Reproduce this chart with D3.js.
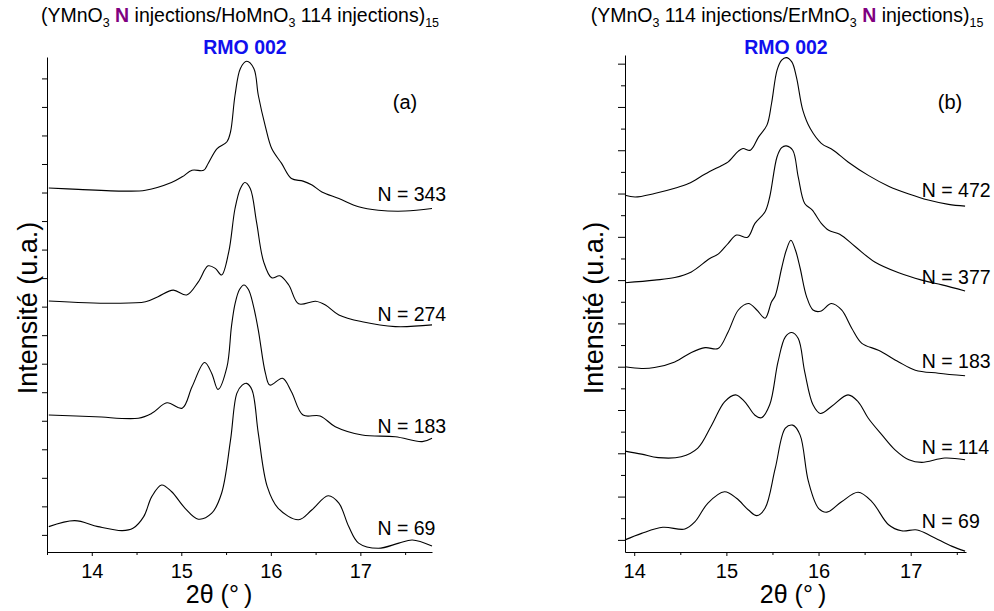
<!DOCTYPE html>
<html><head><meta charset="utf-8">
<script src="https://cdn.jsdelivr.net/npm/d3@7"></script>
<style>
body{margin:0;background:#fff}
svg{display:block}
text{font-family:"Liberation Sans",Arial,Helvetica,sans-serif}
</style>
</head><body>
<svg id="chart" width="994" height="611"></svg>
<script>
// ---------- DATA (2θ in degrees, intensity in arbitrary stacked units) ----------
const seriesNamesA = ["N = 343", "N = 274", "N = 183", "N = 69"];
const seriesNamesB = ["N = 472", "N = 377", "N = 183", "N = 114", "N = 69"];
const xTicksMajor = [14, 15, 16, 17];

const a343 = [[13.52,12.16],[13.85,12.11],[14.37,12.05],[14.60,12.08],[14.89,12.35],[15.01,12.55],[15.12,12.78],[15.25,12.78],[15.30,13.02],[15.40,13.54],[15.51,13.78],[15.55,14.13],[15.60,15.41],[15.66,16.35],[15.73,16.60],[15.81,16.35],[15.86,15.41],[15.94,14.30],[16.01,13.54],[16.12,13.02],[16.23,12.49],[16.36,12.40],[16.46,12.26],[16.57,12.02],[16.76,11.79],[16.98,11.50],[17.20,11.38],[17.50,11.35],[17.80,11.44]];
const a274 = [[13.52,8.20],[14.22,8.12],[14.60,8.17],[14.74,8.35],[14.91,8.58],[15.06,8.41],[15.19,8.87],[15.30,9.43],[15.38,9.34],[15.45,9.11],[15.53,9.92],[15.60,11.44],[15.66,12.14],[15.71,12.35],[15.77,12.14],[15.84,10.97],[15.92,9.57],[16.01,9.01],[16.10,9.08],[16.20,8.76],[16.31,8.10],[16.50,8.19],[16.61,8.06],[16.76,7.71],[17.02,7.47],[17.39,7.30],[17.80,7.36]];
const a183 = [[13.52,4.20],[14.04,4.14],[14.52,4.09],[14.67,4.26],[14.84,4.63],[15.01,4.44],[15.12,5.19],[15.26,6.04],[15.34,5.66],[15.41,5.10],[15.51,5.89],[15.56,7.30],[15.60,8.10],[15.65,8.60],[15.70,8.76],[15.75,8.60],[15.80,8.10],[15.86,7.18],[15.94,5.66],[15.99,5.25],[16.13,5.49],[16.23,5.02],[16.36,4.20],[16.55,4.17],[16.72,3.79],[17.02,3.50],[17.39,3.44],[17.69,3.27],[17.80,3.39]];
const a69 = [[13.52,0.29],[13.81,0.50],[14.07,0.29],[14.34,0.15],[14.46,0.23],[14.58,0.64],[14.67,1.34],[14.78,1.75],[14.89,1.52],[15.04,0.94],[15.19,0.55],[15.34,0.76],[15.45,1.46],[15.55,3.33],[15.62,4.96],[15.68,5.25],[15.73,5.31],[15.79,5.08],[15.86,3.56],[15.96,1.69],[16.08,0.94],[16.31,0.53],[16.46,0.88],[16.64,1.37],[16.76,1.11],[16.87,0.29],[16.98,-0.29],[17.20,-0.47],[17.43,-0.29],[17.58,-0.18],[17.80,-0.39]];

const b472 = [[13.90,7.96],[14.01,7.92],[14.22,8.00],[14.44,8.12],[14.59,8.23],[14.77,8.45],[14.95,8.65],[15.02,8.73],[15.13,8.98],[15.18,9.04],[15.26,9.00],[15.35,9.31],[15.44,9.58],[15.49,10.08],[15.55,10.85],[15.60,11.08],[15.65,11.14],[15.71,11.04],[15.76,10.69],[15.83,9.92],[15.91,9.50],[16.03,9.16],[16.16,9.00],[16.32,8.73],[16.54,8.42],[16.76,8.17],[16.98,7.99],[17.19,7.85],[17.41,7.75],[17.59,7.71]];
const b377 = [[13.90,5.94],[14.22,6.00],[14.44,6.06],[14.62,6.19],[14.82,6.50],[14.91,6.60],[15.02,6.85],[15.11,7.04],[15.23,6.99],[15.31,7.31],[15.42,7.58],[15.47,7.92],[15.55,8.85],[15.60,9.06],[15.65,9.10],[15.72,9.00],[15.78,8.38],[15.85,7.77],[15.93,7.62],[16.03,7.31],[16.11,7.15],[16.23,7.06],[16.40,6.77],[16.61,6.42],[16.87,6.17],[17.12,6.00],[17.34,5.89],[17.59,5.75]];
const b183 = [[13.90,4.00],[14.08,3.96],[14.22,3.98],[14.44,4.11],[14.62,4.33],[14.77,4.44],[14.91,4.42],[15.02,4.81],[15.13,5.31],[15.24,5.46],[15.33,5.31],[15.42,5.12],[15.49,5.50],[15.53,5.64],[15.60,6.28],[15.65,6.69],[15.70,6.92],[15.75,6.69],[15.80,6.28],[15.87,5.62],[15.94,5.31],[16.02,5.28],[16.14,5.46],[16.25,5.31],[16.36,4.89],[16.47,4.54],[16.65,4.38],[16.87,4.11],[17.05,3.92],[17.30,3.85],[17.59,3.79]];
const b114 = [[13.90,2.05],[14.08,1.98],[14.26,1.90],[14.51,1.92],[14.69,2.12],[14.84,2.65],[14.98,3.19],[15.10,3.35],[15.20,3.19],[15.31,2.88],[15.38,2.82],[15.47,3.12],[15.56,4.11],[15.64,4.69],[15.71,4.79],[15.78,4.65],[15.85,3.88],[15.94,3.12],[16.02,2.92],[16.14,3.08],[16.32,3.35],[16.43,3.19],[16.54,2.81],[16.69,2.42],[16.83,2.08],[16.98,1.85],[17.12,1.79],[17.37,1.89],[17.59,1.85]];
const b69 = [[13.90,0.00],[14.08,0.15],[14.31,0.29],[14.55,0.25],[14.66,0.42],[14.80,0.85],[14.98,1.11],[15.11,0.96],[15.24,0.69],[15.33,0.56],[15.42,0.73],[15.53,1.65],[15.64,2.58],[15.72,2.65],[15.80,2.42],[15.89,1.35],[16.00,0.73],[16.09,0.64],[16.25,0.88],[16.43,1.10],[16.58,0.88],[16.76,0.35],[16.90,0.21],[17.07,0.23],[17.23,0.08],[17.45,-0.15],[17.59,-0.26]];

// ---------- DRAW ----------
const svg = d3.select("#chart");
const FONT = '"Liberation Sans",Arial,Helvetica,sans-serif';

function drawPanel(cfg) {
  const g = svg.append("g");
  const x = d3.scaleLinear().domain(cfg.xDomain).range([cfg.left, cfg.right]);
  const y = d3.scaleLinear().domain(cfg.yDomain).range([cfg.bottom, cfg.top]);

  // curves
  const line = d3.line().x(d => x(d[0])).y(d => y(d[1])).curve(d3.curveCatmullRom.alpha(0.5));
  g.selectAll("path.curve").data(cfg.series).join("path")
    .attr("class", "curve").attr("d", line)
    .attr("fill", "none").attr("stroke", "#000").attr("stroke-width", 1.1);

  // y axis: major + minor ticks
  g.append("g").attr("transform", `translate(${cfg.left},0)`)
    .call(d3.axisLeft(y).tickValues(cfg.yMajor).tickSize(cfg.yMajorLen).tickSizeOuter(0).tickFormat(""));
  if (cfg.yMinor.length) {
    g.append("g").attr("transform", `translate(${cfg.left},0)`)
      .call(d3.axisLeft(y).tickValues(cfg.yMinor).tickSize(cfg.yMinorLen).tickSizeOuter(0).tickFormat(""))
      .select(".domain").remove();
  }
  // x axis
  const xAx = g.append("g").attr("transform", `translate(0,${cfg.bottom})`)
    .call(d3.axisBottom(x).tickValues(xTicksMajor).tickSize(4).tickSizeOuter(0).tickPadding(8).tickFormat(d3.format("d")));
  xAx.selectAll("text").attr("font-size", 20).attr("font-family", FONT).attr("fill", "#000");
  g.append("g").attr("transform", `translate(0,${cfg.bottom})`)
    .call(d3.axisBottom(x).tickValues(cfg.xMinor).tickSize(3).tickSizeOuter(0).tickFormat(""))
    .select(".domain").remove();
  g.selectAll(".domain, .tick line").attr("stroke", "#000").attr("stroke-width", 1);

  // series labels
  cfg.names.forEach((n, i) => {
    g.append("text").attr("x", x(cfg.labelX)).attr("y", y(cfg.labelY[i]))
      .attr("font-size", 19.5).attr("fill", "#000").text(n);
  });

  // panel letter
  g.append("text").attr("x", cfg.letterX).attr("y", 109).attr("text-anchor", "middle")
    .attr("font-size", 20).attr("fill", "#000").text(cfg.letter);

  // axis titles
  g.append("text").attr("x", cfg.xTitleX).attr("y", 603).attr("text-anchor", "middle")
    .attr("font-size", 25).attr("fill", "#000").text("2θ (°\u2009)");
  g.append("text").attr("transform", `translate(${cfg.yTitleX},${cfg.yTitleY}) rotate(-90)`)
    .attr("text-anchor", "middle").attr("font-size", 27).attr("fill", "#000").text("Intensité (u.a.)");

  // header
  const t = g.append("text").attr("x", cfg.titleX).attr("y", 22).attr("text-anchor", "middle")
    .attr("font-size", 19.5).attr("fill", "#000");
  cfg.title.forEach(p => {
    const s = t.append("tspan").text(p.t);
    if (p.sub) s.attr("font-size", 12.5).attr("dy", 5);
    if (p.after) s.attr("dy", -5);
    if (p.bold) s.attr("font-weight", "bold").attr("fill", "#800080");
  });
  g.append("text").attr("x", cfg.rmoX).attr("y", 54).attr("text-anchor", "middle")
    .attr("font-size", 19.5).attr("font-weight", "bold").attr("fill", "#1010ee").text("RMO 002");
}

drawPanel({
  xDomain: [13.5, 17.8], yDomain: [-0.6, 16.75],
  left: 47, right: 432, top: 57, bottom: 552,
  series: [a343, a274, a183, a69], names: seriesNamesA,
  yMajor: d3.range(0, 17), yMinor: [], yMajorLen: 5, yMinorLen: 0,
  xMinor: [13.5, 14.5, 15.5, 16.5, 17.5],
  labelX: 17.19, labelY: [11.69, 7.5, 3.57, 0.0],
  letter: "(a)", letterX: 405,
  xTitleX: 219, yTitleX: 37, yTitleY: 308,
  titleX: 240, rmoX: 245,
  title: [{t:"(YMnO"},{t:"3",sub:true},{t:" ",after:true},{t:"N",bold:true},{t:" injections/HoMnO"},{t:"3",sub:true},{t:" 114 injections)",after:true},{t:"15",sub:true}]
});

drawPanel({
  xDomain: [13.9, 17.6], yDomain: [-0.28, 11.2],
  left: 625, right: 966, top: 55, bottom: 552,
  series: [b472, b377, b183, b114, b69], names: seriesNamesB,
  yMajor: d3.range(0, 12), yMinor: d3.range(0, 11).map(v => v + 0.5), yMajorLen: 7, yMinorLen: 4,
  xMinor: [14.5, 15.5, 16.5, 17.5],
  labelX: 17.12, labelY: [7.92, 5.92, 3.98, 1.98, 0.27],
  letter: "(b)", letterX: 950,
  xTitleX: 793, yTitleX: 603, yTitleY: 308,
  titleX: 787, rmoX: 786,
  title: [{t:"(YMnO"},{t:"3",sub:true},{t:" 114 injections/ErMnO",after:true},{t:"3",sub:true},{t:" ",after:true},{t:"N",bold:true},{t:" injections)"},{t:"15",sub:true}]
});
</script>
</body></html>
